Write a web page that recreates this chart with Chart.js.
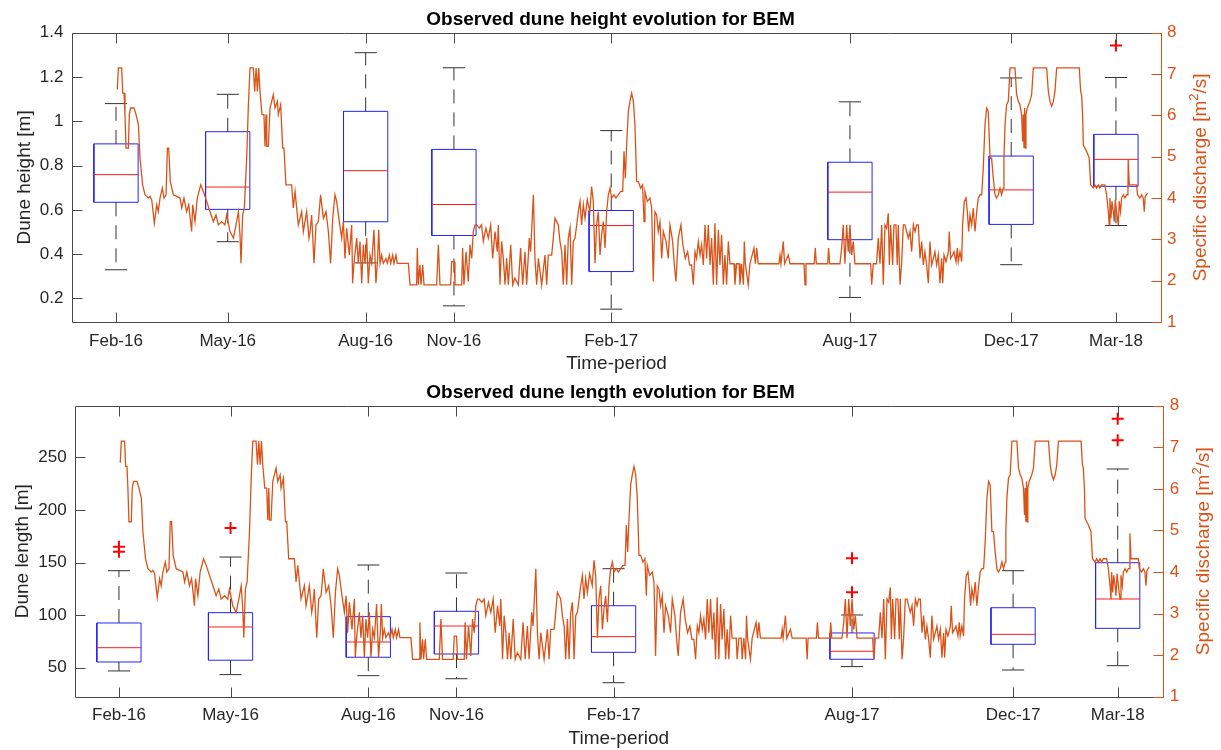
<!DOCTYPE html>
<html><head><meta charset="utf-8">
<script src="https://cdn.jsdelivr.net/npm/chart.js@4.4.1/dist/chart.umd.min.js"></script>
<style>
html,body{margin:0;padding:0;background:#fff;}
#wrap{position:relative;width:1221px;height:750px;overflow:hidden;}
canvas{position:absolute;left:0;}
</style></head><body>
<div id="wrap">
<canvas id="c1" width="1221" height="375" style="top:0px"></canvas>
<canvas id="c2" width="1221" height="375" style="top:375px"></canvas>
</div>
<script>
// ---------- DATA (x values are days since 1 Jan 2016) ----------
const surveyLabels = ['Feb-16','May-16','Aug-16','Nov-16','Feb-17','Aug-17','Dec-17','Mar-18'];
const surveyDays   = [45, 129.8, 234.5, 301.5, 420.9, 602.1, 724.5, 804];

const heightLowerWhisker = [0.329, 0.456, 0.36, 0.166, 0.151, 0.204, 0.352, 0.529];
const heightQ1           = [0.634, 0.602, 0.546, 0.484, 0.321, 0.465, 0.534, 0.706];
const heightMedian       = [0.759, 0.703, 0.777, 0.624, 0.529, 0.680, 0.690, 0.828];
const heightQ3           = [0.898, 0.953, 1.045, 0.873, 0.597, 0.815, 0.843, 0.941];
const heightUpperWhisker = [1.080, 1.122, 1.310, 1.242, 0.958, 1.088, 1.196, 1.198];
const heightOutliers     = [[], [], [], [], [], [], [], [1.343]];

const lengthLowerWhisker = [46.9, 43.4, 42.4, 39.5, 35.7, 51.0, 47.8, 51.9];
const lengthQ1           = [55.4, 57.1, 59.9, 63.0, 64.6, 58.0, 72.2, 87.4];
const lengthMedian       = [69.0, 88.7, 74.4, 89.6, 79.5, 65.6, 81.7, 115.3];
const lengthQ3           = [92.5, 102.3, 98.5, 103.6, 108.9, 83.0, 107.0, 149.8];
const lengthUpperWhisker = [142.2, 155.2, 147.6, 140.0, 144.1, 100.1, 142.2, 238.9];
const lengthOutliers     = [[165.0, 160.3], [182.8], [], [], [], [154.0, 121.7], [], [286.7, 266.2]];

const heightTicks    = [0.2, 0.4, 0.6, 0.8, 1, 1.2, 1.4];
const lengthTicks    = [50, 100, 150, 200, 250];
const dischargeTicks = [1, 2, 3, 4, 5, 6, 7, 8];

// specific discharge [m2/s]: [day, value]
const discharge = [
[46.0,6.63],[46.8,7.15],[49.3,7.15],[50.1,6.54],[51.1,6.54],[51.8,6.02],[52.6,5.21],[54.4,5.21],[55.1,6.02],[56.1,6.18],[58.7,6.18],[60.2,6.02],[62.0,5.78],[63.2,4.97],[65.2,4.32],[67.0,4.08],[68.3,4.04],[69.5,4.00],[70.8,4.04],[72.1,3.96],[74.1,3.39],[75.9,3.84],[77.1,3.67],[78.4,4.00],[80.2,4.24],[81.4,4.00],[83.0,4.08],[84.0,5.21],[85.0,5.21],[86.2,4.40],[88.5,4.08],[91.1,4.04],[93.6,4.00],[94.9,3.76],[96.6,4.00],[98.6,3.67],[100.2,3.84],[102.4,3.19],[103.2,3.84],[105.0,3.43],[106.7,4.00],[109.3,4.32],[111.3,4.16],[113.8,3.92],[116.4,3.67],[118.9,3.43],[120.9,3.59],[122.7,3.35],[125.2,3.43],[127.7,3.35],[129.0,3.59],[131.5,3.19],[134.1,3.03],[136.1,3.35],[137.9,3.67],[139.1,3.11],[139.9,2.42],[141.1,3.59],[142.4,3.76],[144.2,4.97],[145.4,6.18],[146.7,7.15],[149.2,7.15],[150.3,6.58],[151.3,7.15],[152.3,6.58],[153.3,7.15],[154.3,6.58],[155.8,6.02],[157.3,6.02],[158.1,5.25],[158.9,6.02],[159.4,5.25],[160.6,5.25],[161.9,6.18],[164.4,6.50],[165.7,6.18],[167.5,6.34],[168.2,6.02],[170.0,6.26],[171.5,5.21],[172.5,5.21],[174.0,4.32],[178.3,4.32],[179.6,3.76],[180.9,4.16],[183.4,3.35],[185.9,3.67],[187.2,3.19],[189.7,3.67],[191.5,3.03],
[192.3,3.19],[193.5,3.59],[195.3,2.42],[196.8,3.35],[198.6,3.43],[200.3,4.08],[202.4,3.51],[204.4,3.67],[206.2,3.19],[207.9,2.42],[209.5,3.51],[211.2,4.08],[212.5,3.92],[214.5,3.43],[216.3,3.03],[217.6,3.43],[218.8,2.54],[220.1,3.27],[222.1,2.62],[223.9,3.35],[224.6,1.94],[225.6,2.42],[227.7,3.03],[228.9,2.42],[230.2,2.95],[231.5,1.94],[232.7,2.87],[234.0,2.42],[235.3,3.03],[236.5,1.94],[237.8,2.62],[239.1,2.42],[240.8,3.23],[242.3,1.94],[243.6,2.54],[244.4,3.23],[245.4,2.42],[246.6,2.62],[247.9,2.42],[249.9,2.54],[251.0,2.42],[252.5,2.62],[253.5,2.42],[255.0,2.62],[256.0,2.42],[257.5,2.62],[258.5,2.42],[266.9,2.42],[268.2,1.90],[273.2,1.90],[273.7,2.79],[274.5,1.90],[275.7,2.38],[276.5,1.90],[277.8,2.38],[278.8,1.90],[288.4,1.90],[289.7,2.87],[290.9,1.90],[299.0,1.90],[299.8,2.46],[301.6,2.46],[302.3,1.90],[307.4,1.90],[308.1,2.79],[309.1,1.90],[310.7,2.70],[312.4,1.98],[313.7,2.87],[315.0,2.54],[316.2,3.19],[317.5,3.35],[318.8,3.35],[320.8,3.27],[322.5,3.35],[323.8,2.95],[325.8,3.27],[327.6,3.03],[329.4,3.35],[330.9,2.54],[332.7,3.19],[334.4,2.70],
[335.2,3.35],[336.5,1.90],[337.7,2.95],[339.0,2.54],[340.3,1.90],[341.5,2.54],[342.8,1.90],[344.6,2.87],[346.1,1.90],[347.8,2.06],[350.4,1.90],[352.1,2.79],[353.7,1.90],[355.4,2.70],[356.7,1.90],[358.0,2.62],[358.7,3.03],[359.7,2.70],[361.8,4.08],[363.0,2.54],[364.3,1.90],[365.6,2.54],[368.1,1.90],[370.6,2.62],[371.9,1.90],[373.1,2.62],[375.7,2.62],[376.9,3.03],[378.2,3.51],[379.5,3.43],[380.7,3.35],[382.0,2.95],[383.3,2.70],[384.5,1.90],[385.8,2.87],[387.1,1.90],[388.3,3.03],[389.6,3.27],[390.9,1.90],[392.1,2.95],[393.4,3.03],[394.7,3.35],[395.9,3.67],[397.2,3.92],[398.4,3.35],[399.7,3.84],[401.0,3.51],[402.7,3.96],[404.7,3.67],[406.0,4.28],[407.3,3.92],[408.6,2.42],[409.8,3.35],[411.1,3.67],[412.4,2.62],[413.6,3.11],[414.9,3.43],[416.2,2.79],[417.4,3.67],[418.7,4.08],[420.0,4.24],[421.2,4.00],[423.0,4.08],[424.5,4.00],[426.3,4.08],[428.0,4.16],[429.6,4.16],[430.6,5.13],[431.6,4.48],[432.6,5.29],[433.9,6.10],[435.1,6.34],[436.4,6.54],[437.7,6.34],[438.9,5.78],[440.2,4.40],[441.5,4.40],[443.2,4.24],[444.7,4.32],[445.8,3.43],[446.5,4.16],[448.3,3.92],[450.3,4.00],[451.6,3.76],[452.8,1.98],[454.1,3.67],[455.4,3.59],[456.6,3.19],[457.9,3.43],[459.2,2.54],[460.4,3.19],[462.5,2.95],[464.2,2.54],[465.5,3.35],[467.5,2.95],[468.8,2.38],[470.0,1.98],[471.8,3.03],[473.8,3.35],[475.3,2.87],[477.1,2.54],[478.9,2.70],[480.4,2.38],
[481.9,2.38],[483.2,1.90],[484.5,2.70],[485.7,2.54],[487.0,2.95],[488.3,2.62],[489.5,2.87],[490.8,2.38],[492.1,3.35],[493.3,2.54],[494.6,3.35],[495.9,2.38],[497.1,3.03],[498.4,1.90],[499.6,3.39],[500.9,1.90],[502.2,3.23],[503.4,2.38],[504.7,3.11],[506.0,1.90],[507.2,2.62],[508.5,1.90],[509.8,2.95],[511.0,2.41],[514.1,2.41],[514.8,1.90],[516.1,2.41],[517.9,2.41],[518.6,1.90],[519.9,2.41],[521.2,1.90],[521.9,2.95],[522.7,2.41],[524.9,1.90],[526.2,2.41],[529.2,2.79],[530.3,2.41],[531.3,2.79],[532.5,2.41],[548.2,2.41],[549.0,2.62],[549.7,2.41],[551.5,2.95],[552.5,2.41],[555.3,2.62],[556.6,2.41],[567.2,2.41],[568.0,1.90],[568.7,2.41],[575.0,2.41],[575.8,2.79],[576.6,2.41],[585.2,2.41],[585.9,2.79],[586.7,2.41],[594.5,2.41],[595.8,2.79],[597.0,3.35],[598.3,2.41],[599.6,3.35],[600.8,2.70],[602.1,3.35],[603.4,2.62],[604.6,2.95],[605.9,2.41],[617.8,2.41],[618.6,1.90],[619.8,2.41],[622.3,2.41],
[623.6,3.03],[624.9,2.41],[626.2,3.35],[627.4,1.90],[628.7,3.35],[630.0,3.27],[631.2,3.63],[632.0,2.38],[633.0,3.35],[634.5,2.38],[635.5,3.35],[637.0,3.35],[638.0,2.38],[638.8,3.35],[640.1,1.90],[641.3,2.41],[642.6,3.35],[643.9,3.35],[645.1,3.19],[646.4,3.03],[647.7,3.19],[648.9,2.70],[650.2,3.35],[651.5,3.19],[652.7,3.35],[654.0,3.35],[655.3,2.54],[656.5,2.95],[657.8,2.38],[659.0,2.70],[660.3,2.38],[661.6,1.94],[662.8,2.95],[664.1,2.38],[665.4,2.54],[666.6,2.70],[667.9,2.38],[669.2,2.62],[670.4,1.94],[671.7,2.54],[672.5,1.94],[673.5,2.62],[675.0,2.46],[676.8,2.70],[677.5,3.19],[678.5,2.54],[680.0,2.62],[681.1,2.70],[682.6,2.46],[683.6,2.79],[684.3,2.46],[685.6,2.70],[686.9,2.46],[687.6,3.35],[688.9,3.92],[690.2,4.00],[691.2,3.67],[692.2,3.19],[693.2,3.59],[694.5,3.35],[695.7,3.76],[697.0,3.19],[698.3,3.67],[699.5,4.00],[700.8,4.08],[702.1,4.08],[703.3,4.73],[704.6,5.78],[705.9,6.18],[707.1,6.10],[708.4,4.97],[709.6,4.97],[710.9,4.48],[712.2,4.08],[713.4,4.00],[714.7,4.08],[716.0,4.24],[717.2,4.08],[718.5,4.24],[719.0,4.97],[719.8,5.78],[721.0,6.26],[722.3,6.34],[723.6,7.15],[727.4,7.15],[728.6,6.50],[729.9,6.34],[731.1,6.26],[732.4,6.02],[733.2,5.37],[733.7,6.02],[734.2,5.21],[734.7,6.18],[735.2,5.21],[735.7,6.02],[736.7,6.18],[738.7,6.34],[740.0,6.50],[741.3,7.15],[751.4,7.15],[752.7,6.58],[753.9,6.34],[755.2,6.22],[756.5,6.34],[757.7,6.58],[759.0,7.15],
[776.2,7.15],[777.2,6.58],[777.9,6.50],[778.7,6.02],[779.2,5.29],[781.7,5.13],[783.7,4.97],[784.8,4.32],[786.8,4.24],[788.0,4.32],[789.3,4.24],[790.6,4.32],[791.8,4.24],[793.1,4.32],[795.6,4.32],[796.9,4.08],[798.2,3.67],[798.9,3.35],[799.4,4.00],[800.2,3.51],[801.0,3.92],[802.0,3.67],[802.7,3.43],[803.5,3.96],[804.5,3.67],[805.8,3.35],[806.5,3.92],[807.5,3.67],[808.3,4.00],[809.6,4.08],[810.8,4.00],[812.1,4.08],[813.1,4.08],[813.3,4.93],[814.1,4.32],[819.7,4.32],[820.4,4.08],[822.2,4.00],[823.5,4.08],[824.7,4.00],[825.5,3.67],[826.2,4.04],[828.0,4.12]
];

// ---------- STYLE / LAYOUT ----------
const FONT = '"Liberation Sans", Arial, Helvetica, sans-serif';
const TEXT = '#262626';
const AXIS = '#4a4a4a';
const ORANGE = '#D95319';
const X_MIN = 11.6, X_MAX = 838.2;
const BOX_HALF = 16.8, CAP_HALF = 8.4;

Chart.defaults.font.family = FONT;

const axesFrame = {
  id: 'axesFrame',
  afterDatasetsDraw(chart, args, o) {
    const {ctx, chartArea: a, scales} = chart;
    const {x, y, yR} = scales;
    const L = 10;
    const s = v => Math.round(v) + 0.5;
    const left = s(a.left), right = s(a.right), top = s(a.top), bottom = s(a.bottom);
    ctx.save();
    ctx.lineWidth = 1;
    ctx.strokeStyle = AXIS;
    ctx.beginPath();
    ctx.moveTo(left, top); ctx.lineTo(right, top);
    ctx.moveTo(left, top); ctx.lineTo(left, bottom); ctx.lineTo(right, bottom);
    x.ticks.forEach(t => {
      const p = s(x.getPixelForValue(t.value));
      ctx.moveTo(p, bottom); ctx.lineTo(p, bottom - L);
      ctx.moveTo(p, top); ctx.lineTo(p, top + L);
    });
    y.ticks.forEach(t => {
      const p = s(y.getPixelForValue(t.value));
      ctx.moveTo(left, p); ctx.lineTo(left + L, p);
    });
    ctx.stroke();
    ctx.strokeStyle = ORANGE;
    ctx.beginPath();
    ctx.moveTo(right, top); ctx.lineTo(right, bottom);
    yR.ticks.forEach(t => {
      const p = s(yR.getPixelForValue(t.value));
      ctx.moveTo(right, p); ctx.lineTo(right - L, p);
    });
    ctx.stroke();
    // right axis title, rotated like the left one, with superscript
    const parts = [['Specific discharge [m', 19, 0], ['2', 13, -7], ['/s]', 19, 0]];
    let total = 0;
    parts.forEach(p => { ctx.font = p[1] + 'px ' + FONT; total += ctx.measureText(p[0]).width; });
    ctx.translate(o.titleX, (a.top + a.bottom) / 2);
    ctx.rotate(-Math.PI / 2);
    ctx.fillStyle = ORANGE;
    ctx.textBaseline = 'middle';
    ctx.textAlign = 'left';
    let cx = -total / 2;
    parts.forEach(p => {
      ctx.font = p[1] + 'px ' + FONT;
      ctx.fillText(p[0], cx, p[2]);
      cx += ctx.measureText(p[0]).width;
    });
    ctx.restore();
  }
};

function buildBoxDatasets(lo, q1, med, q3, hi, outl) {
  const boxes = [], meds = [], whisk = [], caps = [], outs = [];
  surveyDays.forEach((d, i) => {
    boxes.push({x: d - BOX_HALF, y: q1[i]}, {x: d + BOX_HALF, y: q1[i]}, {x: d + BOX_HALF, y: q3[i]},
               {x: d - BOX_HALF, y: q3[i]}, {x: d - BOX_HALF, y: q1[i]}, {x: d, y: null});
    meds.push({x: d - BOX_HALF, y: med[i]}, {x: d + BOX_HALF, y: med[i]}, {x: d, y: null});
    whisk.push({x: d, y: q3[i]}, {x: d, y: hi[i]}, {x: d, y: null},
               {x: d, y: q1[i]}, {x: d, y: lo[i]}, {x: d, y: null});
    caps.push({x: d - CAP_HALF, y: hi[i]}, {x: d + CAP_HALF, y: hi[i]}, {x: d, y: null},
              {x: d - CAP_HALF, y: lo[i]}, {x: d + CAP_HALF, y: lo[i]}, {x: d, y: null});
    outl[i].forEach(v => outs.push({x: d, y: v}));
  });
  const lineDs = (data, color, order, extra) => Object.assign({
    type: 'line', data, borderColor: color, borderWidth: 1, pointRadius: 0,
    spanGaps: false, tension: 0, yAxisID: 'y', order, fill: false
  }, extra || {});
  return [
    lineDs(boxes, '#2323ff', 5),
    lineDs(whisk, '#333333', 4, {borderDash: [14, 9]}),
    lineDs(caps, '#333333', 3),
    lineDs(meds, '#ff1a1a', 2),
    {type: 'line', data: discharge.map(p => ({x: p[0], y: p[1]})), yAxisID: 'yR',
     borderColor: ORANGE, borderWidth: 1.3, pointRadius: 0, tension: 0, order: 1, fill: false},
    {type: 'line', data: outs, showLine: false, yAxisID: 'y', pointStyle: 'cross',
     pointRadius: 6, borderColor: '#ff0000', borderWidth: 2, order: 0}
  ];
}

function makeChart(id, c) {
  return new Chart(document.getElementById(id), {
    type: 'line',
    data: {datasets: buildBoxDatasets(c.lo, c.q1, c.med, c.q3, c.hi, c.outl)},
    plugins: [axesFrame],
    options: {
      responsive: false, animation: false, events: [],
      layout: {padding: 0},
      plugins: {
        legend: {display: false}, tooltip: {enabled: false},
        title: {display: true, text: c.title, color: '#000',
                font: {size: 19, weight: 'bold'}, padding: c.titlePad},
        axesFrame: {titleX: c.rightTitleX}
      },
      scales: {
        x: {
          type: 'linear', min: X_MIN, max: X_MAX,
          grid: {display: false, drawTicks: false}, border: {display: false},
          afterBuildTicks: s => { s.ticks = surveyDays.map(v => ({value: v})); },
          ticks: {autoSkip: false, maxRotation: 0, padding: c.xTickPad, color: TEXT,
                  font: {size: 17}, callback: (v, i) => surveyLabels[i]},
          title: {display: true, text: 'Time-period', color: TEXT, font: {size: 19},
                  padding: {top: 0, bottom: 0}},
          afterFit: s => { s.height = c.xH; }
        },
        y: {
          type: 'linear', position: 'left', min: c.yMin, max: c.yMax,
          grid: {display: false, drawTicks: false}, border: {display: false},
          afterBuildTicks: s => { s.ticks = c.yTicks.map(v => ({value: v})); },
          ticks: {padding: c.yTickPad, color: TEXT, font: {size: 17}, callback: v => String(v)},
          title: {display: true, text: c.yLabel, color: TEXT, font: {size: 19},
                  padding: {top: c.yTitlePad, bottom: 0}},
          afterFit: s => { s.width = c.leftW; }
        },
        yR: {
          type: 'linear', position: 'right', min: 1, max: 8,
          grid: {display: false, drawTicks: false}, border: {display: false},
          afterBuildTicks: s => { s.ticks = dischargeTicks.map(v => ({value: v})); },
          ticks: {padding: c.rTickPad, color: ORANGE, font: {size: 17}, callback: v => String(v)},
          afterFit: s => { s.width = c.rightW; }
        }
      }
    }
  });
}

makeChart('c1', {
  title: 'Observed dune height evolution for BEM', yLabel: 'Dune height [m]',
  lo: heightLowerWhisker, q1: heightQ1, med: heightMedian, q3: heightQ3, hi: heightUpperWhisker, outl: heightOutliers,
  yMin: 0.093, yMax: 1.4, yTicks: heightTicks,
  titlePad: {top: 8, bottom: 2}, xH: 53, xTickPad: 9, yTickPad: 8.5, rTickPad: 6,
  yTitlePad: 13, leftW: 72, rightW: 60, rightTitleX: 1201
});
makeChart('c2', {
  title: 'Observed dune length evolution for BEM', yLabel: 'Dune length [m]',
  lo: lengthLowerWhisker, q1: lengthQ1, med: lengthMedian, q3: lengthQ3, hi: lengthUpperWhisker, outl: lengthOutliers,
  yMin: 22.4, yMax: 299, yTicks: lengthTicks,
  titlePad: {top: 6, bottom: 2}, xH: 53.3, xTickPad: 8, yTickPad: 8.3, rTickPad: 7,
  yTitlePad: 11, leftW: 75, rightW: 58.3, rightTitleX: 1204
});
</script>
</body></html>
